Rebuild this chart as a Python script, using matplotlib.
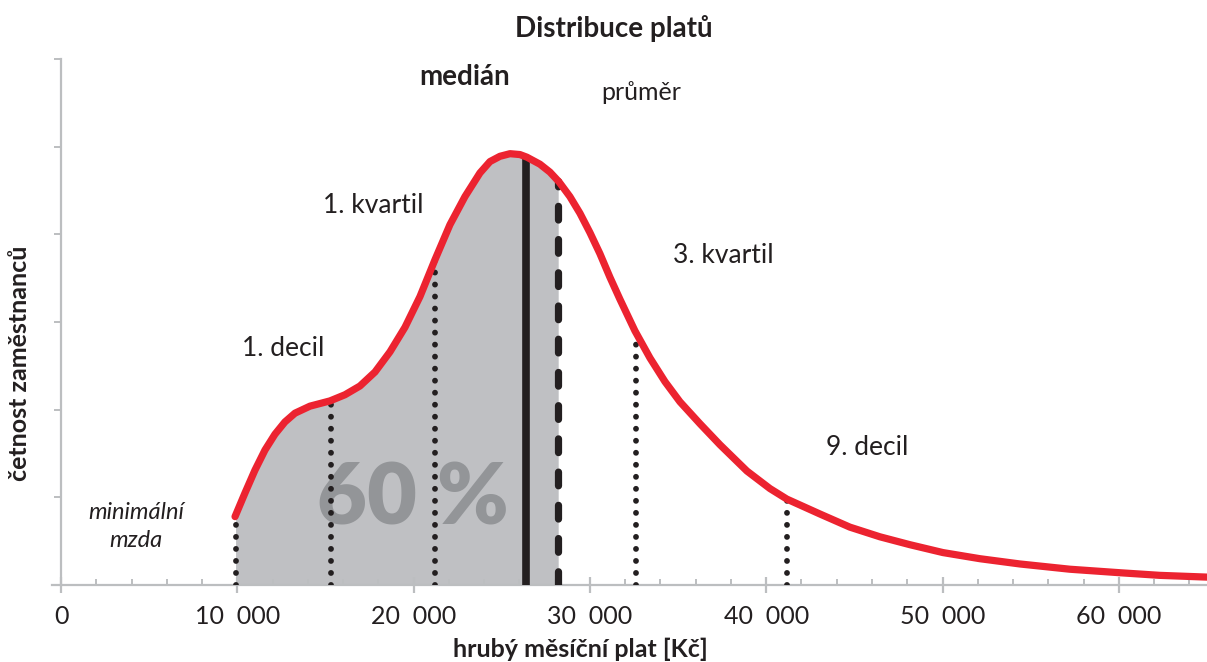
import numpy as np
import matplotlib
matplotlib.use("Agg")
import matplotlib.pyplot as plt

plt.rcParams['font.family'] = ['Lato', 'DejaVu Sans']

# salary (Kc) and relative frequency
salary = [9870, 10435, 11000, 11570, 12135, 12700, 13270, 14120, 15255, 16105,
          16955, 17810, 18660, 19510, 20360, 21210, 22060, 22910, 23760, 24330,
          24895, 25465, 26030, 26425, 27165, 27730, 28240, 28865, 29435, 30000,
          30565, 31135, 31700, 32550, 33405, 34255, 35105, 36240, 37375, 38905,
          40210, 41170, 43045, 44745, 46445, 48145, 50020, 52120, 54385, 57220,
          60055, 62325, 65000]
freq = [0.78, 1.05, 1.31, 1.54, 1.72, 1.86, 1.96, 2.04, 2.10, 2.17,
        2.27, 2.43, 2.66, 2.94, 3.29, 3.71, 4.11, 4.43, 4.70, 4.83,
        4.89, 4.92, 4.91, 4.88, 4.80, 4.71, 4.60, 4.43, 4.24, 4.02,
        3.78, 3.51, 3.26, 2.90, 2.59, 2.32, 2.09, 1.84, 1.60, 1.30,
        1.10, 0.98, 0.81, 0.66, 0.55, 0.46, 0.37, 0.30, 0.24, 0.18,
        0.14, 0.11, 0.09]

min_wage = 9900
decil1 = 15300
kvartil1 = 21200
median = 26400
mean = 28200
kvartil3 = 32600
decil9 = 41200

xticks = [0, 10000, 20000, 30000, 40000, 50000, 60000]
xtick_labels = ['0', '10  000', '20  000', '30  000', '40  000', '50  000', '60  000']

RED = '#ec2330'
GRAY_AX = '#bcbec0'
DARK = '#231f20'

salary = np.array(salary)
freq = np.array(freq)

fig = plt.figure(figsize=(12.07, 6.62), dpi=100)
left = 52.2 / 1207
ax = fig.add_axes([left, 1 - 585 / 662, 1 - left, (585 - 59) / 662])

# shaded area between minimal wage and mean
inside = (salary > min_wage) & (salary < mean)
fx = np.concatenate([[min_wage], salary[inside], [mean]])
fy = np.interp(fx, salary, freq)
ax.fill_between(fx, 0, fy, color='#bfc0c3', lw=0, zorder=1)

ax.text(19970, 0.97, '60 %', fontsize=62, fontweight='heavy', color='#939598',
        ha='center', va='center', zorder=2)

# dotted markers
for v in [min_wage, decil1, kvartil1, kvartil3, decil9]:
    top = np.interp(v, salary, freq)
    ax.plot([v, v], [0, top], color=DARK, lw=4.2, linestyle=(0, (0.01, 2.05)),
            dash_capstyle='round', zorder=3)

ax.plot([median, median], [0, np.interp(median, salary, freq)], color=DARK,
        lw=5.5, solid_capstyle='butt', zorder=3)
ax.plot([mean, mean], [0, np.interp(mean, salary, freq)], color=DARK,
        lw=5.2, linestyle=(0, (1.9, 2.7)), dash_capstyle='round', zorder=3)

ax.plot(salary, freq, color=RED, lw=5.2, solid_capstyle='round',
        solid_joinstyle='round', zorder=4)

ax.set_xlim(-500, 65000)
ax.set_ylim(0, 6)

for s in ['top', 'right']:
    ax.spines[s].set_visible(False)
for s in ['left', 'bottom']:
    ax.spines[s].set_color(GRAY_AX)
    ax.spines[s].set_linewidth(1.6)
ax.spines['left'].set_position(('data', 0))
ax.spines['left'].set_bounds(0, 6)

ax.set_xticks(xticks)
ax.set_xticklabels(xtick_labels)
ax.set_xticks(np.arange(0, 65001, 2000), minor=True)
ax.tick_params(axis='x', which='major', direction='inout', length=11, width=1.6,
               color=GRAY_AX, labelsize=18, labelcolor=DARK, pad=9)
ax.tick_params(axis='x', which='minor', direction='in', length=4.5, width=1.4,
               color=GRAY_AX)
ax.set_yticks(np.arange(0, 7, 1))
ax.set_yticklabels([])
ax.tick_params(axis='y', which='major', direction='out', length=5, width=1.4,
               color=GRAY_AX)

# labels
ax.text(22915, 5.79, 'medián', fontsize=20, fontweight='bold', color=DARK,
        ha='center', va='center')
ax.text(32900, 5.62, 'průměr', fontsize=18, color=DARK, ha='center', va='center')
ax.text(17700, 4.33, '1. kvartil', fontsize=19, color=DARK, ha='center', va='center')
ax.text(37550, 3.76, '3. kvartil', fontsize=19, color=DARK, ha='center', va='center')
ax.text(12590, 2.70, '1. decil', fontsize=19, color=DARK, ha='center', va='center')
ax.text(45720, 1.57, '9. decil', fontsize=19, color=DARK, ha='center', va='center')
ax.text(4250, 0.67, 'minimální\nmzda', fontsize=17, style='italic', color=DARK,
        ha='center', va='center', linespacing=1.4)

fig.text(614 / 1207, 1 - 28 / 662, 'Distribuce platů', fontsize=20,
         fontweight='bold', color=DARK, ha='center', va='center')
fig.text(580 / 1207, 1 - 649 / 662, 'hrubý měsíční plat [Kč]', fontsize=18,
         fontweight='bold', color=DARK, ha='center', va='center')
fig.text(20 / 1207, 1 - 363 / 662, 'četnost zaměstnanců', fontsize=18,
         fontweight='bold', color=DARK, ha='center', va='center', rotation=90)

fig.savefig('out.png', dpi=100)
